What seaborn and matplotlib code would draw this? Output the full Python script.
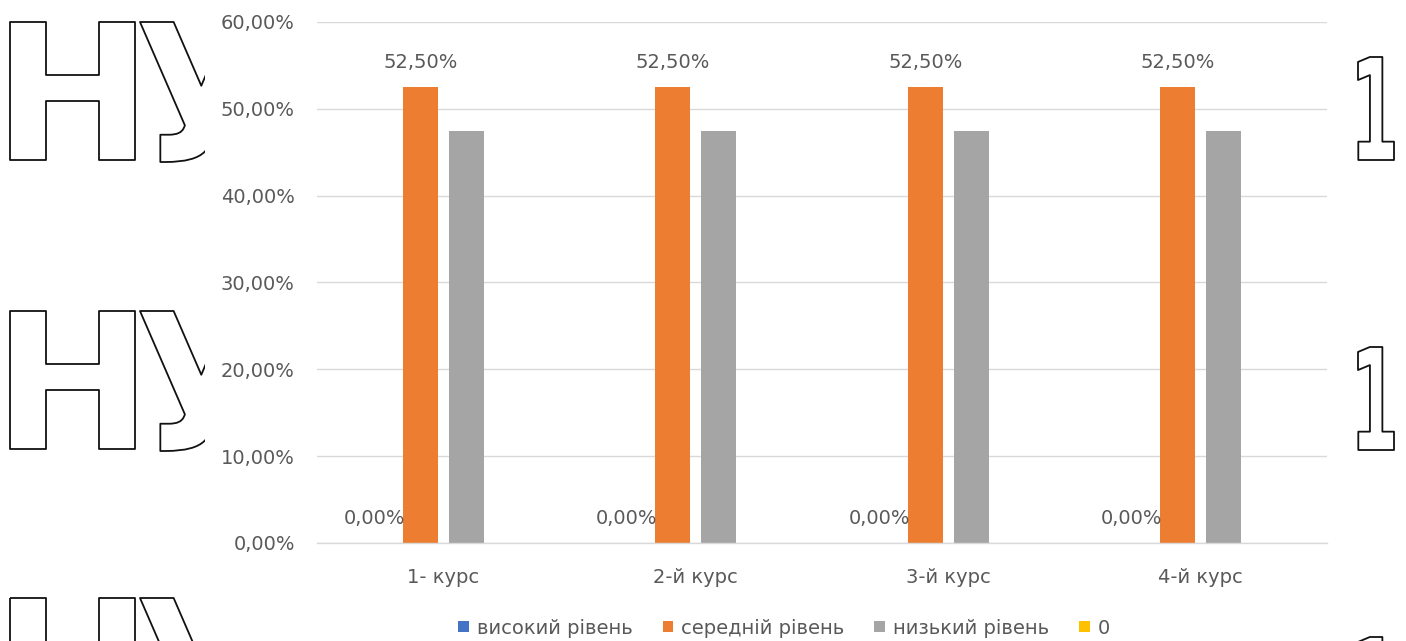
import numpy as np
import pandas as pd
import matplotlib
matplotlib.use("Agg")
import matplotlib.pyplot as plt
import seaborn as sns
from matplotlib.textpath import TextPath
from matplotlib.font_manager import FontProperties
from matplotlib.patches import PathPatch, Rectangle
from matplotlib.path import Path

# ---- data -------------------------------------------------------------
courses = ["1- курс", "2-й курс", "3-й курс", "4-й курс"]
levels = ["високий рівень", "середній рівень", "низький рівень", "0"]
high_vals = [0.0, 0.0, 0.0, 0.0]
mid_vals = [52.5, 52.5, 52.5, 52.5]
low_vals = [47.5, 47.5, 47.5, 47.5]
zero_vals = [0.0, 0.0, 0.0, 0.0]
y_ticks = [0, 10, 20, 30, 40, 50, 60]

colors = ["#4472C4", "#ED7D31", "#A5A5A5", "#FFC000"]
text_color = "#595959"
grid_color = "#D9D9D9"

df = pd.DataFrame({
    "course": courses * 4,
    "level": [lv for lv in levels for _ in courses],
    "value": high_vals + mid_vals + low_vals + zero_vals,
})

sns.set_theme(style="white")
plt.rcParams["font.family"] = ["DejaVu Sans"]

W, H = 1406, 641
fig = plt.figure(figsize=(W / 100, H / 100), dpi=100)
fig.patch.set_facecolor("white")

# ---- background layer with outlined letters ----------------------------
bg = fig.add_axes([0, 0, 1, 1])
bg.set_xlim(0, W)
bg.set_ylim(H, 0)
bg.axis("off")
bg.set_zorder(0)

bold = FontProperties(family="DejaVu Sans", weight="bold")


def outlined_glyph(ch, x0, x1, y0, y1):
    tp = TextPath((0, 0), ch, size=100, prop=bold)
    ext = tp.get_extents()
    v = tp.vertices.copy()
    nx = x0 + (v[:, 0] - ext.x0) / ext.width * (x1 - x0)
    ny = y0 + (ext.y1 - v[:, 1]) / ext.height * (y1 - y0)
    p = Path(np.column_stack([nx, ny]), tp.codes)
    bg.add_patch(PathPatch(p, facecolor="none", edgecolor="#111111",
                           lw=1.3, joinstyle="round", zorder=1))


for top in (22, 311, 598):
    outlined_glyph("Н", 10, 135, top, top + 138)
    outlined_glyph("У", 140, 262, top, top + 140)
for top in (57, 347, 637):
    outlined_glyph("1", 1358, 1394, top, top + 103)

bg.add_patch(Rectangle((205, 0), 1350 - 205, H, facecolor="white",
                       edgecolor="none", zorder=2))

# ---- chart --------------------------------------------------------------
ax = fig.add_axes([317 / W, 1 - 543 / H, (1327 - 317) / W, (543 - 22) / H])
ax.set_zorder(1)
ax.patch.set_alpha(0)

sns.barplot(data=df, x="course", y="value", hue="level", order=courses,
            hue_order=levels, palette=colors, width=0.729, gap=0.24,
            saturation=1, legend=False, linewidth=0, ax=ax)

ax.set_ylim(0, 60)
ax.set_xlim(-0.5, 3.5)
ax.set_yticks(y_ticks)
ax.set_yticklabels([f"{t:.2f}".replace(".", ",") + "%" for t in y_ticks])
ax.yaxis.grid(True, color=grid_color, lw=1.0)
ax.set_axisbelow(True)
for s in ("left", "right", "top"):
    ax.spines[s].set_visible(False)
ax.spines["bottom"].set_color(grid_color)
ax.spines["bottom"].set_linewidth(1.0)
ax.tick_params(axis="y", length=0, pad=16, labelsize=14, labelcolor=text_color)
ax.tick_params(axis="x", length=0, pad=18, labelsize=14, labelcolor=text_color)
ax.set_xlabel("")
ax.set_ylabel("")

fmt = lambda v: f"{v:.2f}".replace(".", ",") + "%"
for cont in ax.containers[:2]:
    ax.bar_label(cont, labels=[fmt(b.get_height()) for b in cont],
                 padding=11, fontsize=14, color=text_color)

handles = [plt.Rectangle((0, 0), 1, 1, facecolor=c, edgecolor="none")
           for c in colors]
fig.legend(handles, levels, loc="center",
           bbox_to_anchor=(784 / W, 1 - 628 / H), ncol=4, frameon=False,
           fontsize=14, labelcolor=text_color, handlelength=0.55,
           handleheight=0.55, handletextpad=0.4, columnspacing=1.55)

fig.savefig("out.png", dpi=100, facecolor="white")
